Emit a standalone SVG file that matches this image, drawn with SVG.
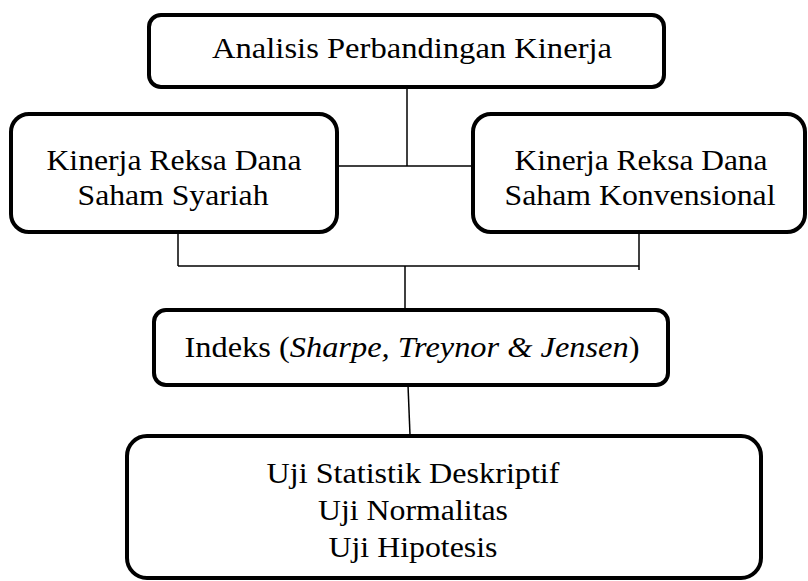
<svg xmlns="http://www.w3.org/2000/svg" width="808" height="581" viewBox="0 0 808 581">
<style>
.box{fill:#fff;stroke:#000;stroke-width:4}
.c{stroke:#000;stroke-width:1.5;fill:none}
.t{font-family:'Liberation Serif',serif;font-size:30px;fill:#000;text-anchor:middle}
</style>
<rect width="808" height="581" fill="#fff"/>
<g id="connectors">
<line class="c" x1="407" y1="87" x2="407" y2="166"/>
<line class="c" x1="338" y1="166" x2="472" y2="166"/>
<line class="c" x1="178" y1="232" x2="178" y2="266"/>
<line class="c" x1="178" y1="266" x2="639" y2="266"/>
<line class="c" x1="639" y1="232" x2="639" y2="270"/>
<line class="c" x1="405" y1="266" x2="405" y2="309"/>
<line class="c" x1="408" y1="385" x2="410" y2="435"/>
</g>
<g id="top">
<rect class="box" x="149" y="15" width="515" height="72" rx="12"/>
<text class="t" x="412" y="58" textLength="400" lengthAdjust="spacingAndGlyphs">Analisis Perbandingan Kinerja</text>
</g>
<g id="left">
<rect class="box" x="11" y="114" width="326" height="118" rx="18"/>
<text class="t" x="174" y="170" textLength="255" lengthAdjust="spacingAndGlyphs">Kinerja Reksa Dana</text>
<text class="t" x="173" y="205" textLength="191" lengthAdjust="spacingAndGlyphs">Saham Syariah</text>
</g>
<g id="right">
<rect class="box" x="473" y="114" width="332" height="118" rx="18"/>
<text class="t" x="641" y="170" textLength="253" lengthAdjust="spacingAndGlyphs">Kinerja Reksa Dana</text>
<text class="t" x="640" y="205" textLength="271" lengthAdjust="spacingAndGlyphs">Saham Konvensional</text>
</g>
<g id="indeks">
<rect class="box" x="154" y="310" width="514" height="75" rx="12"/>
<text class="t" x="412" y="357" textLength="455" lengthAdjust="spacingAndGlyphs">Indeks (<tspan font-style="italic">Sharpe, Treynor &amp; Jensen</tspan>)</text>
</g>
<g id="uji">
<rect class="box" x="127" y="436" width="634" height="142" rx="20"/>
<text class="t" x="413" y="483" textLength="293" lengthAdjust="spacingAndGlyphs">Uji Statistik Deskriptif</text>
<text class="t" x="413" y="520" textLength="190" lengthAdjust="spacingAndGlyphs">Uji Normalitas</text>
<text class="t" x="413" y="557" textLength="169" lengthAdjust="spacingAndGlyphs">Uji Hipotesis</text>
</g>
</svg>
